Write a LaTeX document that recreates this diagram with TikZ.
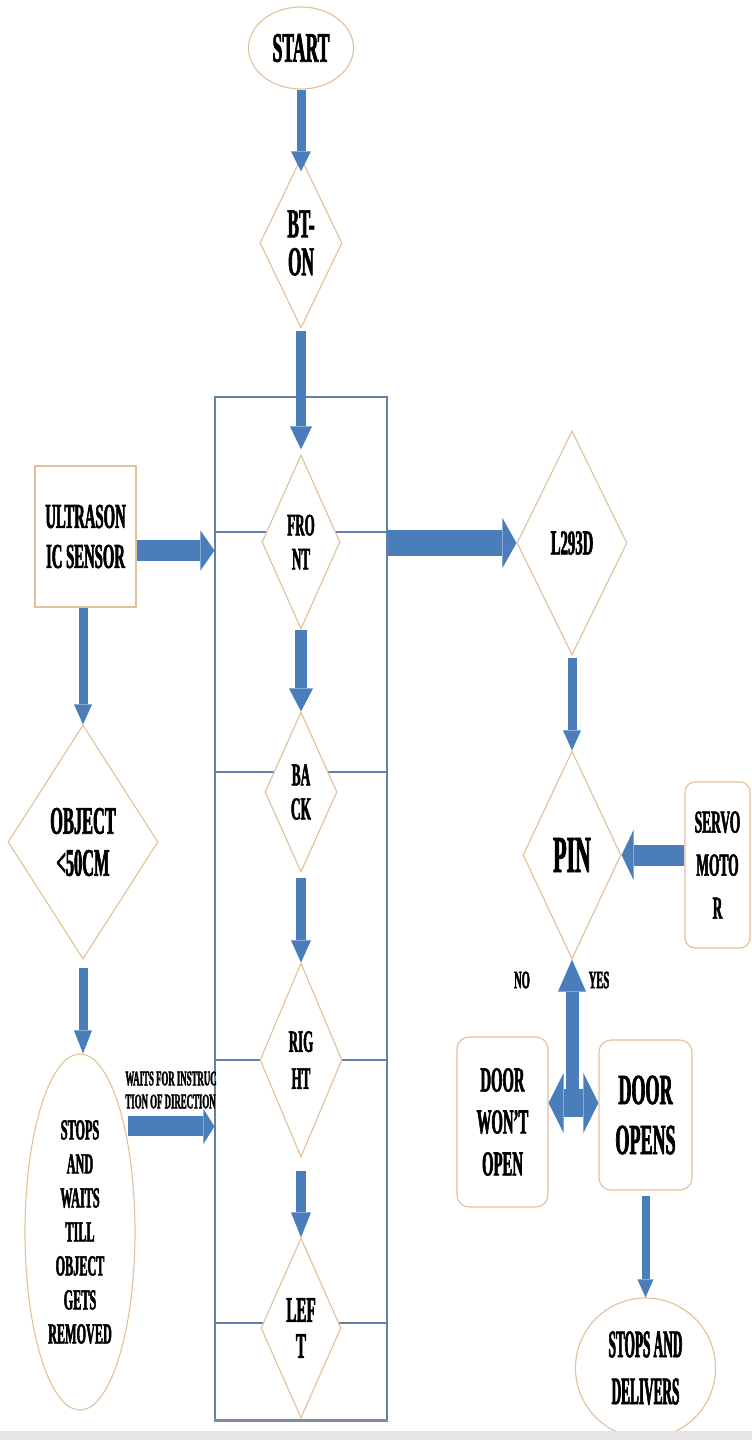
\documentclass[tikz,border=0pt]{standalone}
\usepackage{fontspec}
\setmainfont{Liberation Serif}[FakeStretch=0.42, BoldFeatures={FakeBold=1.6}]
\newfontfamily\narrowserif{Liberation Serif}[FakeStretch=0.34, BoldFeatures={FakeBold=1.6}]
\usetikzlibrary{shapes.geometric,arrows.meta,calc}
\definecolor{ablue}{RGB}{74,126,187}
\definecolor{shapeline}{RGB}{226,192,152}
\definecolor{framec}{RGB}{100,128,165}
\definecolor{framebot}{RGB}{125,140,160}
\newcommand\fsz[2]{\fontsize{#1}{#2}\selectfont\bfseries}
\begin{document}
\begin{tikzpicture}[x=1pt,y=-1pt,
  dia/.style={diamond, draw=shapeline, line width=1.1pt, fill=white, inner sep=0pt, align=center},
  ell/.style={ellipse, draw=shapeline, line width=1.1pt, fill=white, inner sep=0pt, align=center},
  rbox/.style={rectangle, draw=shapeline, line width=1.1pt, fill=white, inner sep=0pt, align=center},
  lbl/.style={inner sep=0pt, align=center},
  frameline/.style={draw=framec, line width=1.1pt},
  barrow/.style n args={3}{draw=ablue, line width=#1, -{Triangle[width=#2, length=#3, line width=0pt]}},
  dbarrow/.style n args={3}{draw=ablue, line width=#1, {Triangle[width=#2, length=#3, line width=0pt]}-{Triangle[width=#2, length=#3, line width=0pt]}}
]
\useasboundingbox (0,0) rectangle (752,1440);
\fill[white] (0,0) rectangle (752,1440);

% frame around the direction column
\node[draw=framec, line width=1.1pt, minimum width=172pt, minimum height=1023pt, inner sep=0pt] (frame) at (301,908.5) {};
\draw[draw=framebot, line width=3pt] (frame.south west) -- (frame.south east);
\coordinate (l1) at (215,532);
\coordinate (l2) at (215,772);
\coordinate (l3) at (215,1060);
\coordinate (l4) at (215,1323);
\draw[frameline] (l1) -- (l1 -| frame.east);
\draw[frameline] (l2) -- (l2 -| frame.east);
\draw[frameline] (l3) -- (l3 -| frame.east);
\draw[frameline] (l4) -- (l4 -| frame.east);

% centre column
\node[ell, minimum width=105pt, minimum height=82pt, font=\fsz{42}{46}] (start) at (301,48) {START};
\node[dia, minimum width=82pt, minimum height=170pt, aspect=0.48, font=\fsz{41}{38}] (bt) at (301,243) {BT-\\ON};
\node[dia, minimum width=78pt, minimum height=174pt, aspect=0.45, font=\fsz{31}{34}] (front) at (301,542) {FRO\\NT};
\node[dia, minimum width=72pt, minimum height=160pt, aspect=0.45, font=\fsz{32}{34}] (back) at (301,792) {BA\\CK};
\node[dia, minimum width=82pt, minimum height=194pt, aspect=0.42, font=\fsz{31}{37}] (right) at (301,1060) {RIG\\HT};
\node[dia, minimum width=80pt, minimum height=180pt, aspect=0.44, font=\fsz{36}{36}] (left) at (301,1328) {LEF\\T};

% left column
\node[rbox, minimum width=101pt, minimum height=141pt, font=\fsz{35}{40}] (ultra) at (85.5,536.5) {ULTRASON\\IC SENSOR};
\node[dia, minimum width=150pt, minimum height=234pt, aspect=0.64, font=\fsz{39}{42}] (obj) at (83,842) {OBJECT\\<50CM};
\node[ell, minimum width=110pt, minimum height=356pt, font=\fsz{29}{34}] (stops) at (80,1232) {STOPS\\AND\\WAITS\\TILL\\OBJECT\\GETS\\REMOVED};
\node[lbl, align=left, font=\fsz{21}{23}] (waits) at (171,1090) {WAITS FOR INSTRUC\\TION OF DIRECTION};

% right column
\node[dia, minimum width=110pt, minimum height=224pt, aspect=0.49, font=\fsz{35}{38}] (l293) at (572,543) {L293D};
\node[dia, minimum width=98pt, minimum height=208pt, aspect=0.47, font=\fsz{52}{55}] (pin) at (572,855) {PIN};
\node[rbox, rounded corners=10pt, minimum width=65pt, minimum height=166pt, font=\fsz{32}{43}] (servo) at (717.5,865) {SERVO\\MOTO\\R};
\node[lbl, font=\fsz{25}{26}] (no) at (522,980) {NO};
\node[lbl, font=\fsz{25}{26}] (yes) at (599,980) {YES};
\node[rbox, rounded corners=12pt, minimum width=91pt, minimum height=170pt, font=\fsz{35}{42}] (wont) at (502.5,1122) {DOOR\\WON'T\\OPEN};
\node[rbox, rounded corners=12pt, minimum width=93pt, minimum height=150pt, font=\fsz{43}{50}] (opens) at (645.5,1115) {DOOR\\OPENS};
\node[circle, draw=shapeline, line width=1.1pt, fill=white, inner sep=0pt, align=center, minimum size=140pt, font=\narrowserif\fsz{39}{47}] (deliv) at (645.5,1368) {STOPS AND\\DELIVERS};

% connectors
\draw[barrow={9pt}{20pt}{20pt}] (start.south) -- ($(bt.north)+(0,14)$);
\draw[barrow={10pt}{22pt}{23pt}] ($(bt.south)+(0,2)$) -- ($(front.north)+(0,-5)$);
\draw[barrow={12pt}{24pt}{23pt}] (front.south) -- (back.north);
\draw[barrow={10pt}{20pt}{22pt}] ($(back.south)+(0,5)$) -- (right.north);
\draw[barrow={10pt}{20pt}{25pt}] ($(right.south)+(0,13)$) -- (left.north);

\coordinate (ua) at ($(ultra.east)+(0,14)$);
\draw[barrow={21pt}{40pt}{14pt}] (ua) -- (ua -| frame.west);
\draw[barrow={9pt}{18pt}{20pt}] (obj.north |- ultra.south) -- (obj.north);
\draw[barrow={9pt}{18pt}{23pt}] ($(obj.south)+(0,8)$) -- (obj.south |- stops.north);
\coordinate (sa) at ($(stops.67)+(3,0)$);
\draw[barrow={20pt}{35pt}{11pt}] (sa) -- (sa -| frame.west);

\draw[barrow={26pt}{50pt}{14pt}] (frame.east |- l293.west) -- (l293.west);
\draw[barrow={9pt}{18pt}{20pt}] ($(l293.south)+(0,2)$) -- (pin.north);
\draw[barrow={21pt}{50pt}{12pt}] (servo.west |- pin.east) -- (pin.east);

\coordinate (dj) at (572,1103);
\draw[barrow={13pt}{28pt}{32pt}] (pin.south |- dj) -- (pin.south);
\draw[dbarrow={28pt}{60pt}{15pt}] (wont.east |- dj) -- (opens.west |- dj);
\draw[barrow={8pt}{16pt}{18pt}] ($(opens.south)+(0,5)$) -- (deliv.north);

\fill[black!10] (0,1431) rectangle (752,1440);
\end{tikzpicture}
\end{document}
